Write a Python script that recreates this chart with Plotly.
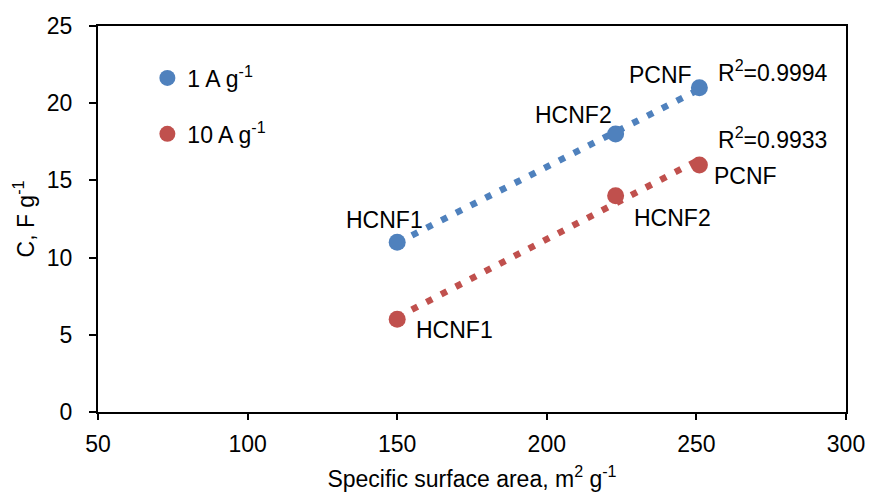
import numpy as np
import plotly.graph_objects as go

samples = ["HCNF1", "HCNF2", "PCNF"]
surface_area = [150, 223, 251]
c_1A = [11, 18, 21]
c_10A = [6, 14, 16]
r2_1A = "0.9994"
r2_10A = "0.9933"

blue = "#4F81BD"
red = "#C0504D"
font = "Liberation Sans, Arial, sans-serif"
fs = 23

fig = go.Figure()

def trend(xs, ys):
    k, b = np.polyfit(xs, ys, 1)
    xx = np.array([min(xs), max(xs)], dtype=float)
    return xx, k * xx + b

for ys, col, name, grp in [(c_1A, blue, "1 A g<sup>-1</sup>", "a"), (c_10A, red, "10 A g<sup>-1</sup>", "b")]:
    tx, ty = trend(surface_area, ys)
    fig.add_trace(go.Scatter(x=tx, y=ty, mode="lines", showlegend=False, hoverinfo="skip",
                             line=dict(color=col, width=6.5, dash="6.5px,10px")))
    fig.add_trace(go.Scatter(x=surface_area, y=ys, mode="markers", name=name, legendgroup=grp,
                             marker=dict(color=col, size=17)))

# point labels: pixel offsets from each point
blue_shifts = [(-13, 22), (-42, 19), (-39, 13)]
red_shifts = [(57, -11), (57, -22), (46, -11)]
for i, s in enumerate(samples):
    dx, dy = blue_shifts[i]
    fig.add_annotation(x=surface_area[i], y=c_1A[i], text=s, showarrow=False, xshift=dx, yshift=dy)
for i, s in enumerate(samples):
    dx, dy = red_shifts[i]
    fig.add_annotation(x=surface_area[i], y=c_10A[i], text=s, showarrow=False, xshift=dx, yshift=dy)

fig.add_annotation(x=surface_area[2], y=c_1A[2], text="R<sup>2</sup>=" + r2_1A, showarrow=False,
                   xshift=74, yshift=17)
fig.add_annotation(x=surface_area[2], y=c_10A[2], text="R<sup>2</sup>=" + r2_10A, showarrow=False,
                   xshift=73, yshift=27)

fig.update_annotations(font=dict(family=font, size=fs, color="black"))

axis_common = dict(showline=True, linecolor="black", linewidth=2, mirror=True, ticks="outside",
                   tickcolor="black", tickwidth=1.5, showgrid=False, zeroline=False, automargin=False,
                   tickfont=dict(family=font, size=fs, color="black"))

fig.update_xaxes(range=[50, 300], dtick=50, ticklen=6, ticklabelstandoff=4,
                 title=dict(text="Specific surface area, m<sup>2</sup> g<sup>-1</sup>",
                            font=dict(family=font, size=fs, color="black"), standoff=15), **axis_common)
fig.update_yaxes(range=[0, 25], dtick=5, ticklen=7, ticklabelstandoff=12,
                 title=dict(text="C, F g<sup>-1</sup>",
                            font=dict(family=font, size=fs, color="black"), standoff=6), **axis_common)

fig.update_layout(
    width=871, height=495,
    margin=dict(l=98, r=25, t=26, b=83, autoexpand=False),
    plot_bgcolor="white", paper_bgcolor="white",
    font=dict(family=font, size=fs, color="black"),
    legend=dict(x=0.066, y=0.921, xanchor="left", yanchor="top", bgcolor="rgba(0,0,0,0)",
                traceorder="grouped", tracegroupgap=23, itemwidth=30,
                font=dict(family=font, size=fs, color="black")),
)

# remove the default 8px page margin so the figure fills the window exactly
fig.write_html("out.html", config={"displayModeBar": False},
               post_script="document.body.style.margin='0';document.body.style.overflow='hidden';")
